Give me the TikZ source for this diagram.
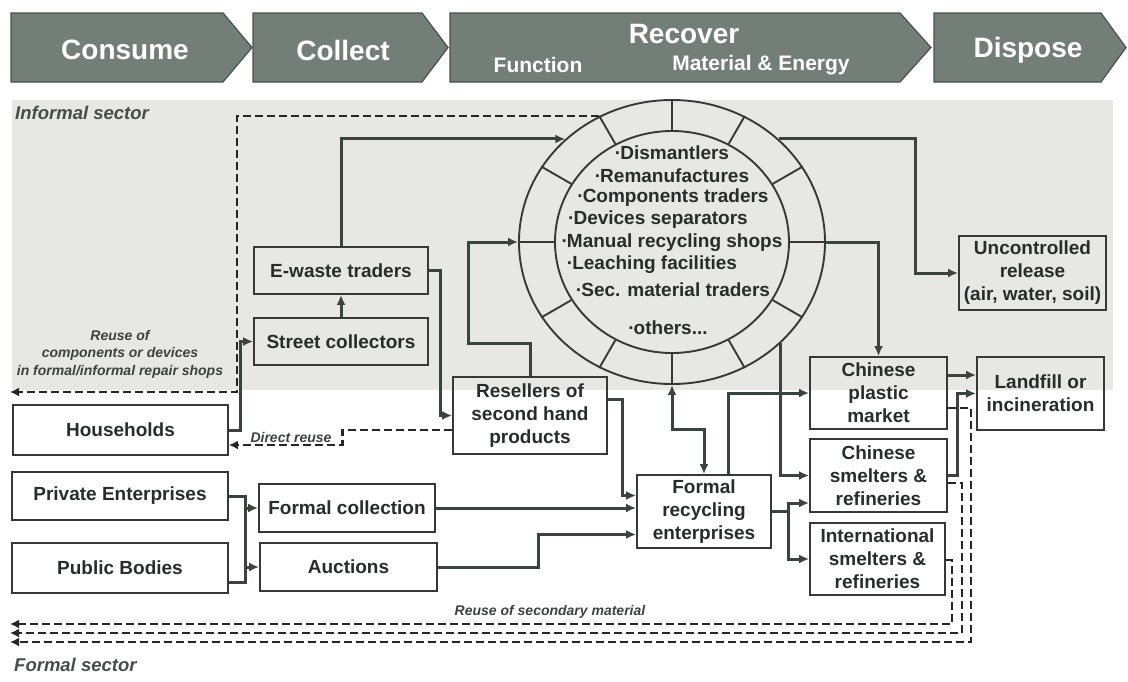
\documentclass[tikz,border=0pt]{standalone}
\usepackage{fontspec}
\setmainfont{Liberation Sans}
\usetikzlibrary{arrows.meta,shapes.geometric,calc}
\definecolor{banner}{RGB}{116,126,120}
\definecolor{bannerline}{RGB}{72,80,76}
\definecolor{ink}{RGB}{40,44,42}
\definecolor{lineclr}{RGB}{58,68,63}
\definecolor{boxclr}{RGB}{55,57,56}
\definecolor{informal}{RGB}{231,231,230}
\begin{document}
\begin{tikzpicture}[x=1pt,y=-1pt,
  bannershape/.style={fill=banner, draw=bannerline, line width=1.2pt},
  bannertext/.style={text=white, font=\fontsize{28}{30}\selectfont\bfseries, inner sep=0pt},
  bannersub/.style={text=white, font=\fontsize{21}{24}\selectfont\bfseries, inner sep=0pt},
  box/.style={draw=boxclr, line width=1.8pt, align=center, text=ink,
    font=\fontsize{19}{23}\selectfont\bfseries, inner sep=0pt},
  ctext/.style={text=ink, font=\fontsize{19}{22}\selectfont\bfseries, inner sep=0pt},
  circ/.style={draw=boxclr, line width=1.9pt},
  line/.style={draw=lineclr, line width=3pt},
  conn/.style={draw=lineclr, line width=3pt, -{Latex[length=10pt,width=9pt]}},
  biconn/.style={draw=lineclr, line width=3pt, {Latex[length=10pt,width=9pt]}-{Latex[length=10pt,width=9pt]}},
  dconn/.style={draw=black!85, line width=2.8pt, dash pattern=on 8pt off 4pt, -{Latex[length=9pt,width=9pt]}},
  sectorlabel/.style={text=ink!85, font=\fontsize{18.5}{22}\selectfont\bfseries\itshape, inner sep=0pt, anchor=west},
  smalllabel/.style={text=ink!90, font=\fontsize{14}{17.5}\selectfont\bfseries\itshape, inner sep=0pt, align=center}
]
\useasboundingbox (0,0) rectangle (1128,681);

% informal sector background
\fill[informal] (12,100) rectangle (1113,390);

% banners
\path[bannershape] (11,13) -- (223,13) -- (252,47.5) -- (223,82) -- (11,82) -- cycle;
\path[bannershape] (253,13) -- (422,13) -- (448,47.5) -- (422,82) -- (253,82) -- cycle;
\path[bannershape] (450,13) -- (900,13) -- (931,47.5) -- (900,82) -- (450,82) -- cycle;
\path[bannershape] (934,13) -- (1101,13) -- (1126,47.5) -- (1101,82) -- (934,82) -- cycle;
\node[bannertext] (tconsume) at (125,50) {Consume};
\node[bannertext] (tcollect) at (343,50) {Collect};
\node[bannertext] (trecover) at (684,34) {Recover};
\node[bannersub] (tfunction) at (538,65) {Function};
\node[bannersub] (tmaterial) at (761,65) {Material \& Energy};
\node[bannertext] (tdispose) at (1028,50) {Dispose};

% sector labels
\node[sectorlabel] (informallabel) at (15,113) {Informal sector};
\node[sectorlabel] (formallabel) at (14,665) {Formal sector};

% ring of informal recyclers
\node[circ, ellipse, inner sep=0pt, minimum width=306pt, minimum height=284pt] (ring) at (672,242) {};
\node[circ, ellipse, inner sep=0pt, minimum width=234pt, minimum height=222pt] (core) at (672,242) {};
\foreach \a in {0,30,...,330} \draw[circ] (core.\a) -- (ring.\a);
\node[ctext] (l1) at (672,153) {·\kern-1pt Dismantlers};
\node[ctext] (l2) at (672,176) {·\kern-1pt Remanufactures};
\node[ctext] (l3) at (673,198) {·\kern-1pt Components traders};
\node[ctext] (l4) at (658,220) {·\kern-1pt Devices separators};
\node[ctext] (l5) at (672,243) {·\kern-1pt Manual recycling shops};
\node[ctext] (l6) at (652,265) {·\kern-1pt Leaching facilities};
\node[ctext] (l7) at (673,290) {·\kern-1pt Sec. material traders};
\node[ctext] (l8) at (668,328) {·\kern-1pt others...};

% boxes
\node[box, minimum width=215pt, minimum height=50pt] (hh) at (120.5,430) {Households};
\node[box, minimum width=216pt, minimum height=48pt] (pe) at (120,496) {Private Enterprises};
\node[box, minimum width=216pt, minimum height=50pt] (pb) at (120,568) {Public Bodies};
\node[box, minimum width=176pt, minimum height=48pt] (fc) at (347,508) {Formal collection};
\node[box, minimum width=177pt, minimum height=48pt] (au) at (348.5,567) {Auctions};
\node[box, minimum width=174pt, minimum height=47pt] (sc) at (341,341.5) {Street collectors};
\node[box, minimum width=174pt, minimum height=47pt] (ew) at (341,270.5) {E-waste traders};
\node[box, minimum width=154pt, minimum height=77pt] (rs) at (530,415.5) {Resellers of\\second hand\\products};
\node[box, minimum width=134pt, minimum height=73pt] (fr) at (704,511.5) {Formal\\recycling\\enterprises};
\node[box, minimum width=137pt, minimum height=72pt] (cp) at (878.5,393) {Chinese\\plastic\\market};
\node[box, minimum width=137pt, minimum height=73pt] (cs) at (878.5,475.5) {Chinese\\smelters \&\\refineries};
\node[box, minimum width=135pt, minimum height=72pt] (intl) at (877.5,559) {International\\smelters \&\\refineries};
\node[box, minimum width=127pt, minimum height=73pt] (lf) at (1040.5,393.5) {Landfill or\\incineration};
\node[box, minimum width=147pt, minimum height=74pt] (unc) at (1032.5,273) {Uncontrolled\\release\\(air, water, soil)};

% labels on dashed flows
\node[smalllabel] (reuselabel) at (120,354) {Reuse of\\components or devices\\in formal/informal repair shops};
\node[smalllabel] (directlabel) at (291,437) {Direct reuse};
\node[smalllabel] (seclabel) at (550,612) {Reuse of secondary material};

% free ends of dashed returns
\coordinate (repair) at (10,392);
\coordinate (sec1) at (10,624);
\coordinate (sec2) at (10,633);
\coordinate (sec3) at (10,642);

% solid flows
\draw[conn] (hh.east) -- ++(12,0) |- (sc.west);
\draw[conn] (sc.north) -- (ew.south);
\draw[conn] (ew.north) |- (ring.136);
\draw[conn] (ew.east) -- ++(12,0) |- (rs.west);
\draw[conn] (rs.north) -- ++(0,-33) -| ([xshift=-50pt]ring.west) -- (ring.west);
\draw[conn] (ring.44) -| ([xshift=-43pt]unc.west) -- (unc.west);
\draw[conn] (ring.east) -| (cp.north);
\draw[conn] (ring.-43) |- (cs.west);
\draw[biconn] (ring.south) -- ++(0,45) -| (fr.north);
\draw[conn] ([yshift=16pt]rs.east) -- ++(15,0) |- ([yshift=16pt]fr.west);
\draw[conn] (fc.east) -- (fc.east -| fr.west);
\draw[conn] (au.east) -- ++(101,0) |- ([yshift=-23pt]fr.west);
\draw[conn] ([xshift=24pt]fr.north) |- (cp.west);
\draw[line] (fr.east) -- ++(17,0) coordinate (frj);
\draw[conn] (frj) |- ([yshift=-27.5pt]cs.west);
\draw[conn] (frj) |- (intl.west);
\coordinate (cpo) at ([yshift=18pt]cp.east);
\draw[conn] (cpo) -- (cpo -| lf.west);
\draw[conn] (cs.east) -- ++(10,0) |- (lf.west);
\draw[line] (pe.east) -- ++(17,0) coordinate (bus) |- ([yshift=-14pt]pb.east);
\draw[conn] (bus |- fc.west) -- (fc.west);
\draw[conn] (bus |- au.west) -- (au.west);

% dashed flows
\draw[dconn] (ring.120) -| ($(repair)+(227,0)$) -- (repair);
\draw[dconn] ([yshift=-14.5pt]rs.west) -- ++(-110,0) |- ([yshift=-15pt]hh.east);
\draw[dconn] ([yshift=-15pt]cp.east) -- ++(23,0) |- (sec3);
\draw[dconn] ([yshift=-7.5pt]cs.east) -- ++(14,0) |- (sec2);
\draw[dconn] ([yshift=-1pt]intl.east) -- ++(6,0) |- (sec1);
\end{tikzpicture}
\end{document}
